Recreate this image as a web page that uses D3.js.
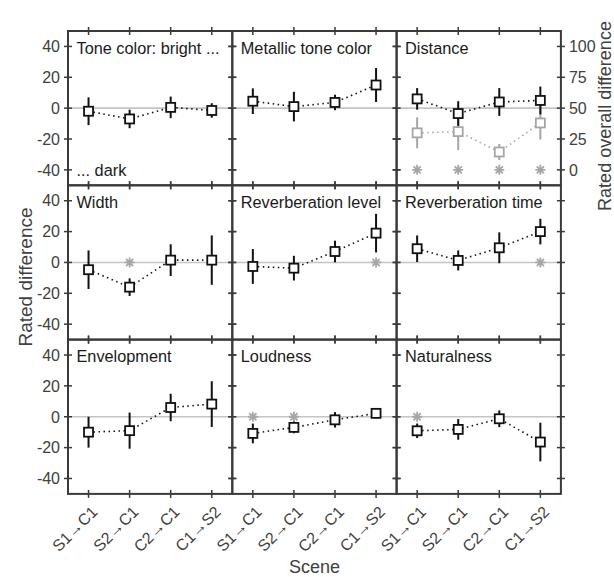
<!DOCTYPE html>
<html>
<head>
    <style>
        body { margin: 0; background: #fff; font-family: "Liberation Sans", Arial, sans-serif; }
        svg { display: block; }
    </style>
</head>
<body>
    <svg id="chart" width="614" height="577"></svg>
    <script src="https://d3js.org/d3.v7.min.js"></script>
    <script>
        // Data
        const scenes = ["S1\u2192C1", "S2\u2192C1", "C2\u2192C1", "C1\u2192S2"];
        const attributes = ["Tone color: bright ...", "Metallic tone color", "Distance",
            "Width", "Reverberation level", "Reverberation time",
            "Envelopment", "Loudness", "Naturalness"];
        const means = [
            [-2, -7, 0.5, -1.5],
            [4.5, 1, 3.7, 15],
            [6, -3.5, 4, 5],
            [-4.7, -16, 1.5, 1.5],
            [-2.6, -3.7, 7.1, 19],
            [8.9, 1.3, 9.5, 20],
            [-10, -9, 6, 8.2],
            [-10.8, -6.9, -2, 2.2],
            [-9.1, -8.2, -1.3, -16.4]
        ];
        const errors = [
            [9, 6, 7, 4.7],
            [8.3, 9.6, 5, 11],
            [7, 8, 9, 9],
            [12.5, 5.7, 10.3, 16],
            [11.3, 8, 7, 12.5],
            [8.6, 6.5, 10, 8.3],
            [10, 11.7, 8.9, 14.8],
            [6.4, 3.8, 5, 3.2],
            [4.7, 6.7, 5.4, 12.5]
        ];
        // significance stars (scene index), drawn at zero
        const stars = [[], [], [], [1], [3], [3], [], [0, 1], [0]];
        // overall difference (right axis of the Distance panel)
        const overallMeans = [30, 31, 14.5, 38];
        const overallErrors = [12.5, 15, 6.5, 13.5];
        const overallStars = [0, 1, 2, 3];

        const leftTicks = [-40, -20, 0, 20, 40];
        const rightTicks = [0, 25, 50, 75, 100];

        // Layout
        const svg = d3.select("#chart");
        const marginLeft = 68, marginTop = 31, pw = 164.3, ph = 154.3;
        const dark = "#3a3a3a", textColor = "#404040", gray = "#a6a6a6";

        const x = d3.scaleLinear().domain([0.5, 4.5]).range([0, pw]);
        const y = d3.scaleLinear().domain([-50, 50]).range([ph, 0]);
        const yR = d3.scaleLinear().domain([-12.5, 112.5]).range([ph, 0]);

        const line = d3.line().x((d, i) => x(i + 1)).y(d => d);

        function star(g, cx, cy, color) {
            const r = 5;
            const p = d3.path();
            p.moveTo(cx - r, cy); p.lineTo(cx + r, cy);
            p.moveTo(cx, cy - r); p.lineTo(cx, cy + r);
            const q = r * 0.72;
            p.moveTo(cx - q, cy - q); p.lineTo(cx + q, cy + q);
            p.moveTo(cx - q, cy + q); p.lineTo(cx + q, cy - q);
            g.append("path").attr("d", p.toString())
                .attr("stroke", color).attr("stroke-width", 1.8).attr("fill", "none");
        }

        function series(g, vals, errs, scale, color) {
            const pts = vals.map(v => scale(v));
            g.append("path")
                .attr("d", line(pts))
                .attr("fill", "none")
                .attr("stroke", color)
                .attr("stroke-width", 1.6)
                .attr("stroke-dasharray", "1.5,3.5");
            vals.forEach((v, i) => {
                g.append("line")
                    .attr("x1", x(i + 1)).attr("x2", x(i + 1))
                    .attr("y1", scale(v + errs[i])).attr("y2", scale(v - errs[i]))
                    .attr("stroke", color).attr("stroke-width", 2);
            });
            const s = 9;
            g.selectAll(null).data(vals).enter().append("rect")
                .attr("x", (d, i) => x(i + 1) - s / 2)
                .attr("y", d => scale(d) - s / 2)
                .attr("width", s).attr("height", s)
                .attr("fill", "#fff")
                .attr("stroke", color)
                .attr("stroke-width", 1.8);
        }

        attributes.forEach((name, k) => {
            const col = k % 3, row = Math.floor(k / 3);
            const g = svg.append("g")
                .attr("transform", `translate(${marginLeft + col * pw},${marginTop + row * ph})`);

            // zero line
            g.append("line")
                .attr("x1", 0).attr("x2", pw)
                .attr("y1", y(0)).attr("y2", y(0))
                .attr("stroke", "#c4c4c4").attr("stroke-width", 1.6);

            // title
            g.append("text")
                .attr("x", 8.5).attr("y", 22.5)
                .attr("fill", "#1a1a1a")
                .attr("font-size", 16.3)
                .text(name);
            if (k === 0) {
                g.append("text")
                    .attr("x", 8.5).attr("y", 145)
                    .attr("fill", "#1a1a1a")
                    .attr("font-size", 16.3)
                    .text("... dark");
            }

            if (k === 2) {
                overallStars.forEach(i => star(g, x(i + 1), yR(0), gray));
                series(g, overallMeans, overallErrors, yR, gray);
            }
            stars[k].forEach(i => star(g, x(i + 1), y(0), gray));
            series(g, means[k], errors[k], y, "#111");

            // ticks
            const tk = 4;
            leftTicks.forEach(t => {
                g.append("line").attr("x1", -tk).attr("x2", tk)
                    .attr("y1", y(t)).attr("y2", y(t))
                    .attr("stroke", dark).attr("stroke-width", 1.5);
                g.append("line").attr("x1", pw - tk).attr("x2", pw + tk)
                    .attr("y1", y(t)).attr("y2", y(t))
                    .attr("stroke", dark).attr("stroke-width", 1.5);
            });
            scenes.forEach((s, i) => {
                [0, ph].forEach(yy => {
                    g.append("line").attr("x1", x(i + 1)).attr("x2", x(i + 1))
                        .attr("y1", yy - tk).attr("y2", yy + tk)
                        .attr("stroke", dark).attr("stroke-width", 1.5);
                });
            });

            // frame
            g.append("rect")
                .attr("width", pw).attr("height", ph)
                .attr("fill", "none")
                .attr("stroke", dark).attr("stroke-width", 2);

            // left tick labels
            if (col === 0) {
                g.selectAll(null).data(leftTicks).enter().append("text")
                    .attr("x", -8).attr("y", d => y(d))
                    .attr("dy", "0.36em")
                    .attr("text-anchor", "end")
                    .attr("fill", textColor)
                    .attr("font-size", 16)
                    .text(d => d);
            }
            // right axis for overall difference
            if (k === 2) {
                g.selectAll(null).data(rightTicks).enter().append("text")
                    .attr("x", pw + 8).attr("y", d => yR(d))
                    .attr("dy", "0.36em")
                    .attr("fill", textColor)
                    .attr("font-size", 16)
                    .text(d => d);
            }
            // scene labels
            if (row === 2) {
                g.selectAll(null).data(scenes).enter().append("text")
                    .attr("transform", (d, i) => `translate(${x(i + 1) + 6},${ph + 15}) rotate(-45)`)
                    .attr("text-anchor", "end")
                    .attr("dy", "0.35em")
                    .attr("fill", textColor)
                    .attr("font-size", 16)
                    .text(d => d);
            }
        });

        // axis titles
        svg.append("text")
            .attr("transform", "translate(32,277) rotate(-90)")
            .attr("text-anchor", "middle")
            .attr("fill", textColor)
            .attr("font-size", 19)
            .text("Rated difference");
        svg.append("text")
            .attr("transform", "translate(611,116) rotate(-90)")
            .attr("text-anchor", "middle")
            .attr("fill", textColor)
            .attr("font-size", 18)
            .text("Rated overall difference");
        svg.append("text")
            .attr("x", marginLeft + 1.5 * pw).attr("y", 573)
            .attr("text-anchor", "middle")
            .attr("fill", textColor)
            .attr("font-size", 18)
            .text("Scene");
    </script>
</body>
</html>
